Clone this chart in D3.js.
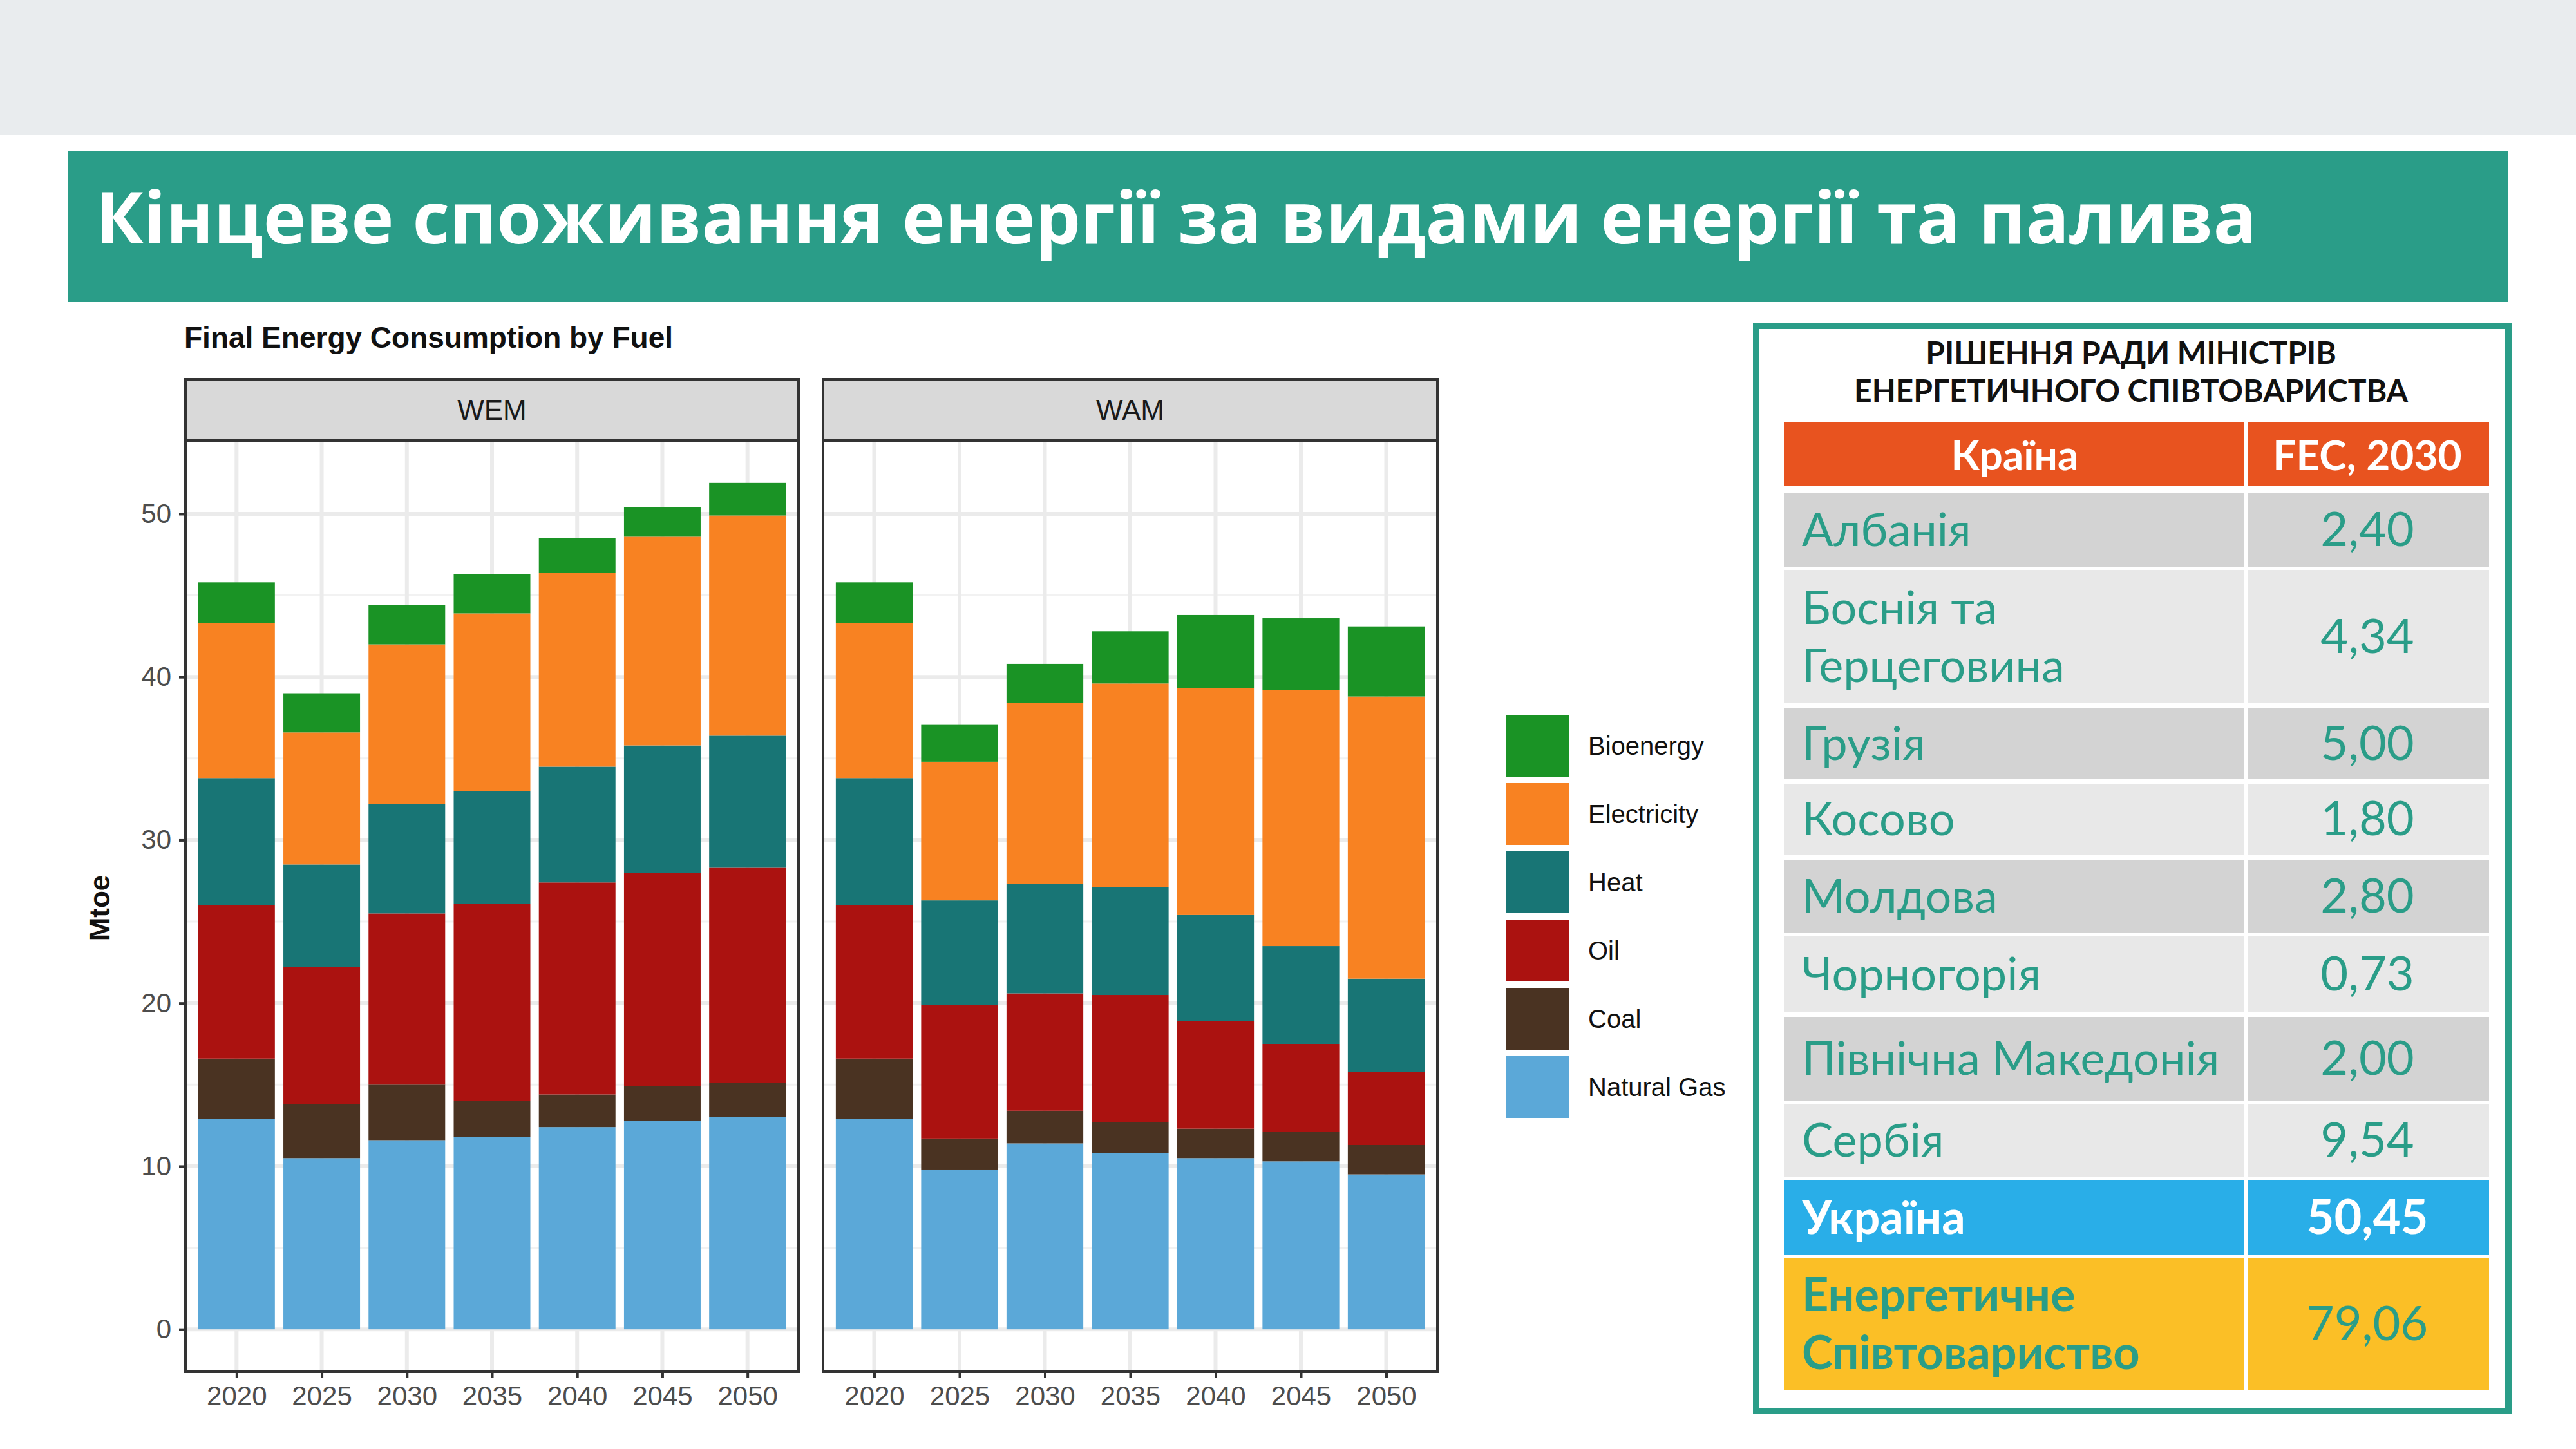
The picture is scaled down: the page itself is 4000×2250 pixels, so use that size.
<!DOCTYPE html>
<meta charset="utf-8">
<style>
body { margin:0; background:#fff; }
svg { display:block; }
</style>
<body>
<svg id="page" width="4000" height="2250"></svg>
<script src="https://cdn.jsdelivr.net/npm/d3@7"></script>
<script>
var years = ["2020","2025","2030","2035","2040","2045","2050"];
var fuels = ["Natural Gas","Coal","Oil","Heat","Electricity","Bioenergy"];
var fuelColors = ["#5ba8d8","#4a3322","#ab1210","#187575","#f88222","#1a9325"];

// Mtoe by fuel, per scenario
var wemGas  = [12.9,10.5,11.6,11.8,12.4,12.8,13.0];
var wemCoal = [3.7,3.3,3.4,2.2,2.0,2.1,2.1];
var wemOil  = [9.4,8.4,10.5,12.1,13.0,13.1,13.2];
var wemHeat = [7.8,6.3,6.7,6.9,7.1,7.8,8.1];
var wemElec = [9.5,8.1,9.8,10.9,11.9,12.8,13.5];
var wemBio  = [2.5,2.4,2.4,2.4,2.1,1.8,2.0];

var wamGas  = [12.9,9.8,11.4,10.8,10.5,10.3,9.5];
var wamCoal = [3.7,1.9,2.0,1.9,1.8,1.8,1.8];
var wamOil  = [9.4,8.2,7.2,7.8,6.6,5.4,4.5];
var wamHeat = [7.8,6.4,6.7,6.6,6.5,6.0,5.7];
var wamElec = [9.5,8.5,11.1,12.5,13.9,15.7,17.3];
var wamBio  = [2.5,2.3,2.4,3.2,4.5,4.4,4.3];

var yTicks = [0,10,20,30,40,50];

var countries = ["Албанія","Боснія та\nГерцеговина","Грузія","Косово","Молдова","Чорногорія","Північна Македонія","Сербія","Україна","Енергетичне\nСпівтовариство"];
var fec2030 = ["2,40","4,34","5,00","1,80","2,80","0,73","2,00","9,54","50,45","79,06"];

var svg = d3.select("#page");

// top band + title
svg.append("rect").attr("width",4000).attr("height",210).attr("fill","#e9ecee");
svg.append("rect").attr("x",105).attr("y",235).attr("width",3790).attr("height",234).attr("fill","#2a9d88");
svg.append("text").attr("x",148).attr("y",378).attr("fill","#fff")
  .style("font","bold 112px 'Open Sans'")
  .text("Кінцеве споживання енергії за видами енергії та палива");

svg.append("text").attr("x",286).attr("y",540).style("font","bold 46px 'Liberation Sans'")
  .attr("fill","#111").text("Final Energy Consumption by Fuel");

var y = d3.scaleLinear().domain([-2.6,54.5]).range([2130,684]);

var panels = [
  {name:"WEM", x0:288, x1:1240, data:[wemGas,wemCoal,wemOil,wemHeat,wemElec,wemBio]},
  {name:"WAM", x0:1278, x1:2232, data:[wamGas,wamCoal,wamOil,wamHeat,wamElec,wamBio]}
];

panels.forEach(function(p, pi) {
  var x = d3.scaleLinear().domain([-0.6, years.length - 0.4]).range([p.x0, p.x1]);
  var g = svg.append("g");
  g.append("rect").attr("x",p.x0).attr("y",684).attr("width",p.x1-p.x0).attr("height",2130-684).attr("fill","#fff");
  // minor grid
  d3.range(5,55,10).forEach(function(v) {
    g.append("line").attr("x1",p.x0).attr("x2",p.x1).attr("y1",y(v)).attr("y2",y(v))
      .attr("stroke","#f2f2f2").attr("stroke-width",3);
  });
  yTicks.forEach(function(v) {
    g.append("line").attr("x1",p.x0).attr("x2",p.x1).attr("y1",y(v)).attr("y2",y(v))
      .attr("stroke","#ebebeb").attr("stroke-width",6);
  });
  years.forEach(function(yr, i) {
    g.append("line").attr("x1",x(i)).attr("x2",x(i)).attr("y1",684).attr("y2",2130)
      .attr("stroke","#ebebeb").attr("stroke-width",6);
  });
  // stacked bars
  var rows = years.map(function(yr, i) {
    var o = {i:i};
    fuels.forEach(function(f, k) { o[f] = p.data[k][i]; });
    return o;
  });
  var stack = d3.stack().keys(fuels)(rows);
  stack.forEach(function(layer, k) {
    g.selectAll(null).data(layer).enter().append("rect")
      .attr("x", function(d) { return x(d.data.i - 0.45); })
      .attr("width", x(0.9) - x(0))
      .attr("y", function(d) { return y(d[1]); })
      .attr("height", function(d) { return y(d[0]) - y(d[1]); })
      .attr("fill", fuelColors[k]);
  });
  g.append("rect").attr("x",p.x0).attr("y",684).attr("width",p.x1-p.x0).attr("height",2130-684)
    .attr("fill","none").attr("stroke","#333").attr("stroke-width",4);
  // strip
  g.append("rect").attr("x",p.x0).attr("y",589).attr("width",p.x1-p.x0).attr("height",95)
    .attr("fill","#d9d9d9").attr("stroke","#333").attr("stroke-width",4);
  g.append("text").attr("x",(p.x0+p.x1)/2).attr("y",652).attr("text-anchor","middle")
    .style("font","44px 'Liberation Sans'").attr("fill","#1a1a1a").text(p.name);
  // x axis
  var xa = g.append("g").attr("transform","translate(0,2130)")
    .call(d3.axisBottom(x).tickValues(d3.range(years.length)).tickFormat(function(d){ return years[d]; })
      .tickSize(10).tickSizeOuter(0).tickPadding(12));
  xa.select(".domain").remove();
  xa.selectAll("line").attr("stroke","#333").attr("stroke-width",4);
  xa.selectAll("text").style("font","42px 'Liberation Sans'").attr("fill","#4d4d4d");
  if (pi === 0) {
    var ya = g.append("g").attr("transform","translate(" + p.x0 + ",0)")
      .call(d3.axisLeft(y).tickValues(yTicks).tickSize(10).tickPadding(12));
    ya.select(".domain").remove();
    ya.selectAll("line").attr("stroke","#333").attr("stroke-width",4);
    ya.selectAll("text").style("font","42px 'Liberation Sans'").attr("fill","#4d4d4d");
  }
});

svg.append("text").attr("transform","translate(170,1410) rotate(-90)").attr("text-anchor","middle")
  .style("font","bold 44px 'Liberation Sans'").attr("fill","#111").text("Mtoe");

// legend
var legendOrder = fuels.slice().reverse();
legendOrder.forEach(function(f, i) {
  var c = fuelColors[fuels.indexOf(f)];
  var yy = 1110 + i * 106;
  svg.append("rect").attr("x",2339).attr("y",yy).attr("width",97).attr("height",96).attr("fill",c);
  svg.append("text").attr("x",2466).attr("y",yy + 62).style("font","40px 'Liberation Sans'")
    .attr("fill","#111").text(f);
});

// table
var teal = "#2a9d88";
svg.append("rect").attr("x",2727).attr("y",506).attr("width",1168).attr("height",1685)
  .attr("fill","#fff").attr("stroke",teal).attr("stroke-width",10);
svg.append("text").attr("x",3309).attr("y",565).attr("text-anchor","middle")
  .style("font","bold 48px Lato").attr("fill","#111").text("РІШЕННЯ РАДИ МІНІСТРІВ");
svg.append("text").attr("x",3309).attr("y",624).attr("text-anchor","middle")
  .style("font","bold 48px Lato").attr("fill","#111").text("ЕНЕРГЕТИЧНОГО СПІВТОВАРИСТВА");

var tx0 = 2770, tx1 = 3865, tmid = 3487;
var rowTops = [656,766,885,1099,1217,1335,1454,1579,1714,1832,1954];
var rowBots = [755,880,1092,1210,1327,1449,1572,1709,1827,1949,2158];
svg.append("rect").attr("x",tx0).attr("y",rowTops[0]).attr("width",tx1-tx0).attr("height",rowBots[0]-rowTops[0]).attr("fill","#e8531f");
svg.append("line").attr("x1",tmid).attr("x2",tmid).attr("y1",rowTops[0]).attr("y2",rowBots[10]).attr("stroke","#fff").attr("stroke-width",6);
svg.append("text").attr("x",(tx0+tmid)/2).attr("y",730).attr("text-anchor","middle")
  .style("font","bold 64px Lato").attr("fill","#fff").text("Країна");
svg.append("text").attr("x",(tmid+tx1)/2).attr("y",730).attr("text-anchor","middle")
  .style("font","bold 64px Lato").attr("fill","#fff").text("FEC, 2030");

countries.forEach(function(c, i) {
  var top = rowTops[i+1], bot = rowBots[i+1];
  var fill = i === 8 ? "#29aee8" : i === 9 ? "#fbbf26" : (i % 2 === 0 ? "#d3d3d3" : "#e8e8e8");
  var txtCol = i === 8 ? "#fff" : teal;
  var weight = i >= 8 ? "bold " : "";
  svg.append("rect").attr("x",tx0).attr("y",top).attr("width",tmid-3-tx0).attr("height",bot-top).attr("fill",fill);
  svg.append("rect").attr("x",tmid+3).attr("y",top).attr("width",tx1-tmid-3).attr("height",bot-top).attr("fill",fill);
  var lines = c.split("\n");
  var cy = (top + bot) / 2;
  lines.forEach(function(l, j) {
    svg.append("text").attr("x",2798).attr("y",cy + 25 + (j - (lines.length-1)/2) * 90)
      .style("font", weight + "72px Lato").attr("fill",txtCol).text(l);
  });
  svg.append("text").attr("x",(tmid+tx1)/2).attr("y",cy + 25).attr("text-anchor","middle")
    .style("font", (i === 8 ? "bold " : "") + "74px Lato").attr("fill",txtCol).text(fec2030[i]);
});
</script>
</body>
